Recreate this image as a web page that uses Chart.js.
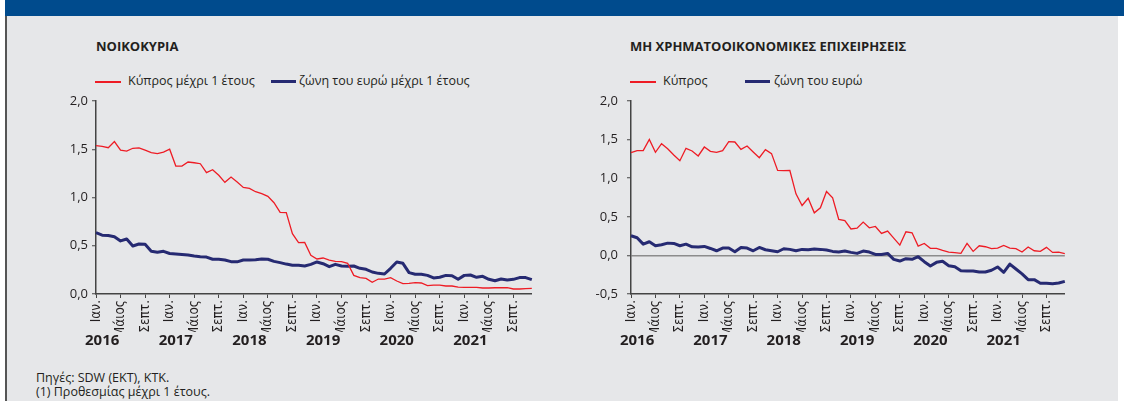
<!DOCTYPE html>
<html>
<head>
<meta charset="utf-8">
<script src="https://cdn.jsdelivr.net/npm/chart.js@4.4.1/dist/chart.umd.min.js"></script>
<style>
  html, body { margin: 0; padding: 0; background: #fff; }
  body { width: 1124px; height: 401px; position: relative; overflow: hidden; font-family: 'Open Sans', sans-serif; color: #231f20; }
  #panel { position: absolute; left: 5px; top: 0; width: 1113px; height: 401px; background: #e6e7e9; border-left: 2px solid #555; box-sizing: border-box; }
  #band { position: absolute; left: 5px; top: 0; width: 1119px; height: 16px; background: #004b8d; }
  .title { position: absolute; font-weight: bold; font-size: 13px; line-height: 16px; white-space: nowrap; }
  .leg { position: absolute; font-size: 12.5px; line-height: 16px; white-space: nowrap; }
  .sw { position: absolute; }
  canvas { position: absolute; }
  .foot { position: absolute; left: 36px; font-size: 12.5px; line-height: 14px; white-space: nowrap; }
</style>
</head>
<body>
<div id="panel"></div>
<div id="band"></div>

<div class="title" style="left:96px; top:38px;">ΝΟΙΚΟΚΥΡΙΑ</div>
<div class="sw" style="left:95px; top:81px; width:26px; height:1.5px; background:#ee1c25;"></div>
<div class="leg" style="left:128px; top:73px;">Κύπρος μέχρι 1 έτους</div>
<div class="sw" style="left:271px; top:80px; width:25px; height:3px; background:#262a72;"></div>
<div class="leg" style="left:299px; top:73px;">ζώνη του ευρώ μέχρι 1 έτους</div>

<div class="title" style="left:630px; top:38px;">ΜΗ ΧΡΗΜΑΤΟΟΙΚΟΝΟΜΙΚΕΣ ΕΠΙΧΕΙΡΗΣΕΙΣ</div>
<div class="sw" style="left:630px; top:81px; width:26px; height:1.5px; background:#ee1c25;"></div>
<div class="leg" style="left:663px; top:73px;">Κύπρος</div>
<div class="sw" style="left:745px; top:80px; width:25px; height:3px; background:#262a72;"></div>
<div class="leg" style="left:774px; top:73px;">ζώνη του ευρώ</div>

<canvas id="hhChart" width="510" height="265" style="left:40px; top:90px;"></canvas>
<canvas id="nfcChart" width="508" height="265" style="left:575px; top:90px;"></canvas>

<div class="foot" style="top:371px;">Πηγές: SDW (ΕΚΤ), ΚΤΚ.</div>
<div class="foot" style="top:385px;">(1) Προθεσμίας μέχρι 1 έτους.</div>

<script>
// monthly data, Jan 2016 - Dec 2021
const years = ['2016', '2017', '2018', '2019', '2020', '2021'];
const monthTicks = ['Ιαν.', 'Μάιος', 'Σεπτ.'];

// households, up to 1 year
const cyHouseholds = [
  1.537, 1.53, 1.516, 1.58, 1.49, 1.48, 1.51, 1.515, 1.49, 1.465, 1.455, 1.47,
  1.50, 1.326, 1.326, 1.368, 1.36, 1.35, 1.257, 1.288, 1.23, 1.157, 1.212, 1.16,
  1.105, 1.095, 1.06, 1.04, 1.012, 0.946, 0.846, 0.843, 0.625, 0.533, 0.535, 0.40,
  0.363, 0.373, 0.352, 0.339, 0.336, 0.318, 0.193, 0.169, 0.162, 0.121, 0.155, 0.155,
  0.169, 0.135, 0.107, 0.11, 0.117, 0.114, 0.086, 0.093, 0.093, 0.083, 0.083, 0.072,
  0.069, 0.069, 0.069, 0.062, 0.062, 0.065, 0.065, 0.065, 0.052, 0.052, 0.055, 0.058
];
const eaHouseholds = [
  0.635, 0.61, 0.607, 0.594, 0.55, 0.57, 0.497, 0.518, 0.515, 0.442, 0.432, 0.442,
  0.42, 0.415, 0.41, 0.404, 0.394, 0.387, 0.383, 0.36, 0.36, 0.352, 0.335, 0.333,
  0.352, 0.352, 0.356, 0.363, 0.36, 0.338, 0.325, 0.31, 0.297, 0.297, 0.29, 0.307,
  0.332, 0.314, 0.283, 0.307, 0.29, 0.287, 0.29, 0.266, 0.256, 0.228, 0.214, 0.207,
  0.266, 0.332, 0.318, 0.221, 0.204, 0.204, 0.193, 0.166, 0.173, 0.193, 0.19, 0.152,
  0.193, 0.197, 0.173, 0.183, 0.152, 0.138, 0.156, 0.145, 0.152, 0.17, 0.17, 0.149
];

// non-financial corporations
const cyCorporations = [
  1.33, 1.357, 1.357, 1.503, 1.335, 1.447, 1.382, 1.30, 1.227, 1.387, 1.352, 1.288,
  1.404, 1.348, 1.335, 1.357, 1.473, 1.469, 1.374, 1.417, 1.34, 1.266, 1.37, 1.318,
  1.10, 1.098, 1.10, 0.797, 0.646, 0.74, 0.551, 0.616, 0.827, 0.745, 0.467, 0.45,
  0.342, 0.353, 0.431, 0.358, 0.375, 0.285, 0.315, 0.224, 0.134, 0.306, 0.293, 0.121,
  0.155, 0.091, 0.091, 0.065, 0.043, 0.035, 0.026, 0.155, 0.052, 0.125, 0.112, 0.087,
  0.095, 0.13, 0.095, 0.087, 0.043, 0.108, 0.06, 0.052, 0.104, 0.039, 0.043, 0.022
];
const eaCorporations = [
  0.254, 0.228, 0.146, 0.177, 0.125, 0.138, 0.159, 0.155, 0.125, 0.146, 0.112, 0.108,
  0.116, 0.09, 0.06, 0.095, 0.095, 0.047, 0.103, 0.095, 0.06, 0.103, 0.073, 0.06,
  0.047, 0.086, 0.078, 0.06, 0.078, 0.073, 0.082, 0.078, 0.069, 0.052, 0.045, 0.056,
  0.039, 0.026, 0.056, 0.043, 0.013, 0.013, 0.026, -0.051, -0.073, -0.043, -0.051, -0.017,
  -0.081, -0.137, -0.09, -0.077, -0.133, -0.146, -0.198, -0.202, -0.202, -0.215, -0.215, -0.193,
  -0.15, -0.219, -0.112, -0.176, -0.24, -0.314, -0.314, -0.361, -0.361, -0.366, -0.357, -0.336
];

const labels = [];
years.forEach(y => {
  for (let m = 1; m <= 12; m++) labels.push(y + '-' + m);
});

const RED = '#ee1c25';
const BLUE = '#262a72';
const AXIS = '#444';
const tickFont = { family: "'Liberation Sans Narrow', 'DejaVu Sans Condensed', 'Arial Narrow', sans-serif", size: 13.5 };

function makeChart(id, cy, ea, yMin, yLabelPad, zeroLine) {
  const ctx = document.getElementById(id).getContext('2d');
  return new Chart(ctx, {
    type: 'line',
    data: {
      labels: labels,
      datasets: [
        { data: cy, borderColor: RED, backgroundColor: RED, borderWidth: 1.3, pointRadius: 0, tension: 0 },
        { data: ea, borderColor: BLUE, backgroundColor: BLUE, borderWidth: 3, pointRadius: 0, tension: 0, borderJoinStyle: 'round' },
      ],
    },
    options: {
      responsive: false,
      animation: false,
      layout: { padding: { top: 11, right: 11, bottom: 1, left: 0 } },
      plugins: { legend: { display: false }, tooltip: { enabled: false } },
      scales: {
        x: {
          type: 'category',
          offset: false,
          grid: {
            drawOnChartArea: false,
            tickLength: 4,
            color: c => (c.index % 4 === 0 ? AXIS : 'transparent'),
          },
          border: { color: AXIS, width: 1.5 },
          ticks: {
            autoSkip: false,
            maxRotation: 90,
            minRotation: 90,
            padding: 2,
            color: '#231f20',
            font: tickFont,
            callback: (v, i) => (i % 4 === 0 ? monthTicks[(i % 12) / 4] : ''),
          },
          afterFit: s => { s.height = 38; },
        },
        x2: {
          type: 'category',
          labels: labels,
          position: 'bottom',
          offset: false,
          grid: { display: false, drawTicks: false },
          border: { display: false },
          ticks: {
            autoSkip: false,
            maxRotation: 0,
            minRotation: 0,
            padding: 0,
            color: '#231f20',
            font: { family: "'Open Sans', sans-serif", size: 15, weight: 'bold' },
            callback: (v, i) => (i % 12 === 1 ? years[Math.floor(i / 12)] : ''),
          },
          afterFit: s => { s.height = 22; },
        },
        y: {
          min: yMin,
          max: 2,
          grid: {
            drawOnChartArea: zeroLine,
            tickLength: 4,
            lineWidth: 1.5,
            color: c => (zeroLine && c.tick && c.tick.value === 0 ? '#8c8c8c' : 'transparent'),
            tickColor: AXIS,
            tickWidth: 1,
          },
          border: { color: AXIS, width: 1.5 },
          ticks: {
            stepSize: 0.5,
            padding: yLabelPad,
            color: '#231f20',
            font: { family: "'Open Sans', sans-serif", size: 13 },
            callback: v => v.toFixed(1).replace('.', ','),
          },
          afterFit: s => {
            s.width = 56;
            s.paddingTop = 6;
            s.paddingBottom = 6;
          },
        },
      },
    },
  });
}

makeChart('hhChart', cyHouseholds, eaHouseholds, 0, 4, false);
makeChart('nfcChart', cyCorporations, eaCorporations, -0.5, 9, true);
</script>
</body>
</html>
